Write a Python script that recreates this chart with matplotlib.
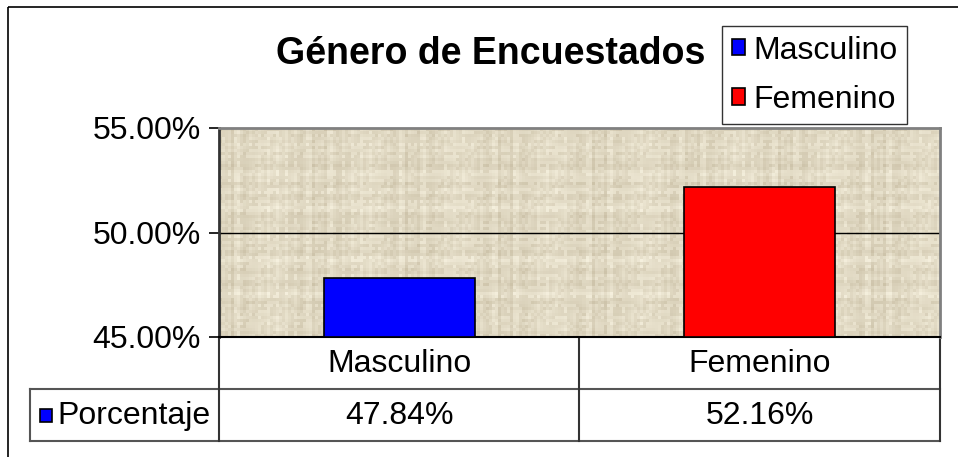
import numpy as np
import matplotlib
matplotlib.use('Agg')
import matplotlib.pyplot as plt
from matplotlib.ticker import PercentFormatter
from matplotlib.patches import Rectangle
from matplotlib.lines import Line2D

plt.rcParams['font.family'] = ['Liberation Sans', 'DejaVu Sans']

# datos
title = 'Género de Encuestados'
categories = ['Masculino', 'Femenino']
values = [47.84, 52.16]
bar_colors = ['#0000ff', '#ff0000']
series_name = 'Porcentaje'
y_ticks = [45, 50, 55]

W, H = 958, 457
fig = plt.figure(figsize=(W / 100, H / 100), dpi=100)

# capa de fondo en pixeles (marco y tabla de datos)
bg = fig.add_axes([0, 0, 1, 1], zorder=0)
bg.set_xlim(0, W)
bg.set_ylim(H, 0)
bg.axis('off')
bg.add_patch(Rectangle((8, 7), 1000, 500, fill=False, ec='black', lw=1.2))

# area de grafico
L, R, T, B = 219, 940, 128, 337
ax = fig.add_axes([L / W, 1 - B / H, (R - L) / W, (B - T) / H], zorder=2)

# textura tipo Excel, cuadriculado fino (patron determinista)
nr, nc = 70, 240
ri = np.arange(nr)
ci = np.arange(nc)
rows = ((ri * ri * 7 + ri * 3) % 29) / 28.0
cols = ((ci * ci * 5 + ci * 11) % 31) / 30.0
cell = (((ri[:, None] * 13 + ci[None, :] * 7) * (ri[:, None] + ci[None, :] + 3)) % 19) / 18.0
tex = 0.35 * rows[:, None] + 0.35 * cols[None, :] + 0.3 * cell
dark = np.array([0.80, 0.76, 0.66])
light = np.array([0.97, 0.95, 0.88])
img = dark + (light - dark) * tex[..., None]
ax.imshow(img, extent=(-0.5, 1.5, 45, 55), aspect='auto', interpolation='nearest', zorder=0)

x = np.arange(len(categories))
bars = ax.bar(x, [v - 45 for v in values], bottom=45, width=0.42,
              color=bar_colors, edgecolor='black', linewidth=1.2, zorder=3)
ax.axhline(50, color='black', lw=1, zorder=2)
ax.set_xlim(-0.5, 1.5)
ax.set_ylim(45, 55)
ax.set_yticks(y_ticks)
ax.yaxis.set_major_formatter(PercentFormatter(decimals=2))
ax.tick_params(axis='y', labelsize=23, length=7, width=1.2, pad=6)
ax.set_xticks([])
for s in ['top', 'right']:
    ax.spines[s].set_color('#808080')
    ax.spines[s].set_linewidth(2)
ax.spines['left'].set_color('#333333')
ax.spines['left'].set_linewidth(2)
ax.spines['bottom'].set_linewidth(1.5)

# tabla de datos
row1, row2, row3 = 337, 389, 441
lab_left = 30
col_edges = [L, (L + R) / 2, R]
bg.add_line(Line2D([L, R], [row2, row2], color='#555555', lw=1.5))
bg.add_line(Line2D([lab_left, R], [row3, row3], color='#555555', lw=1.5))
bg.add_line(Line2D([lab_left, L], [row2, row2], color='#555555', lw=1.5))
bg.add_line(Line2D([lab_left, lab_left], [row2, row3], color='#555555', lw=1.5))
for xe in col_edges:
    bg.add_line(Line2D([xe, xe], [row1, row3], color='#333333', lw=1.5))
for i, cat in enumerate(categories):
    cx = (col_edges[i] + col_edges[i + 1]) / 2
    bg.text(cx, (row1 + row2) / 2 + 1, cat, ha='center', va='center', fontsize=23)
    bg.text(cx, (row2 + row3) / 2 + 1, f'{values[i]:.2f}%', ha='center', va='center', fontsize=23)
bg.add_patch(Rectangle((40, 409), 12, 13, fc=bar_colors[0], ec='black', lw=1.2))
bg.text(57, (row2 + row3) / 2 + 1, series_name, ha='left', va='center', fontsize=23)

# titulo y leyenda
fig.text(491 / W, 1 - 54 / H, title, ha='center', va='center', fontsize=27, fontweight='bold')
leg = fig.legend(bars, categories, loc='upper left', bbox_to_anchor=(722 / W, 1 - 26 / H),
                 fontsize=23, frameon=True, fancybox=False, edgecolor='black',
                 handlelength=0.42, handleheight=0.42, handletextpad=0.25,
                 labelspacing=0.6, borderpad=0.3, borderaxespad=0)
leg.get_frame().set_linewidth(1)

fig.savefig('out.png', dpi=100)
